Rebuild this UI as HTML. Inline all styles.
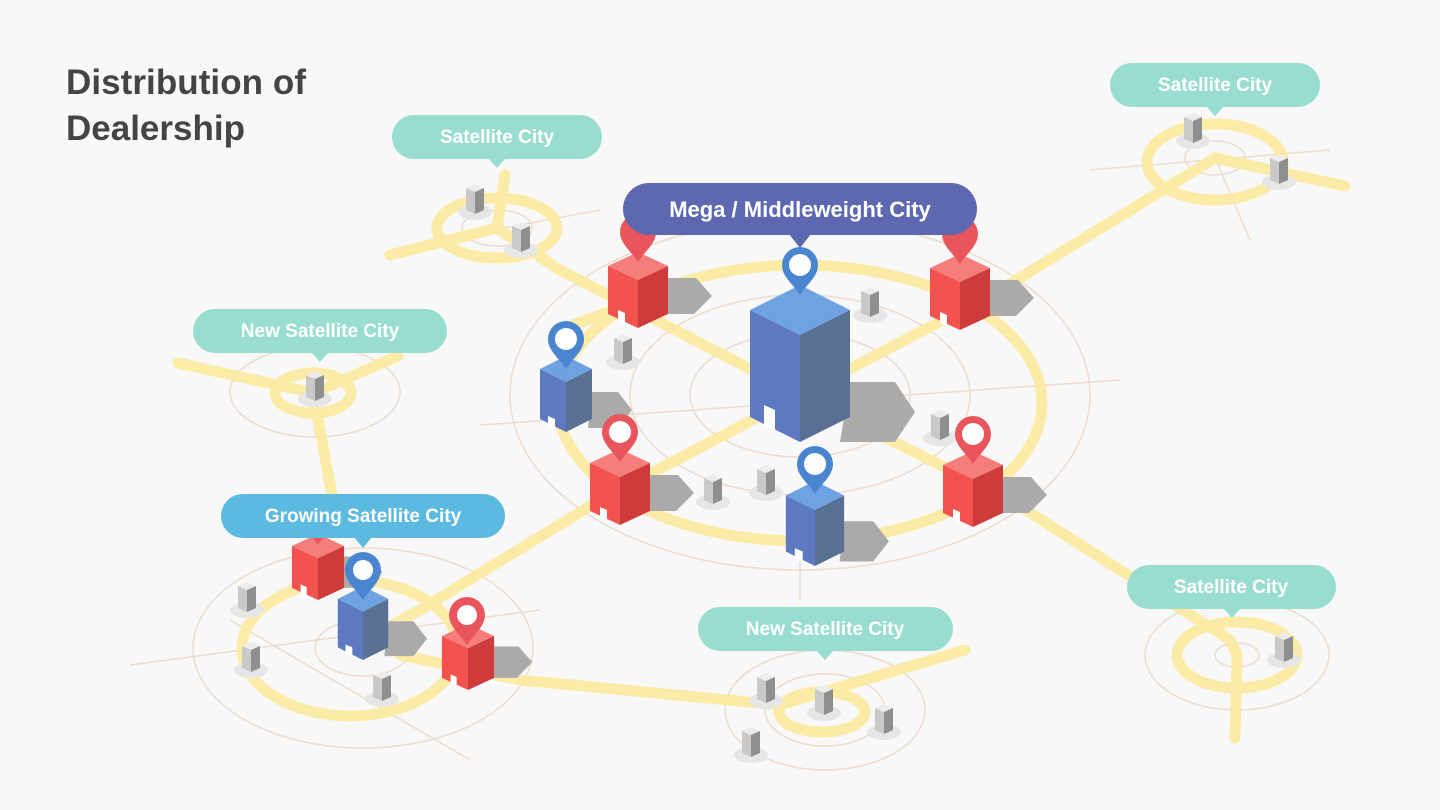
<!DOCTYPE html>
<html><head><meta charset="utf-8"><style>
html,body{margin:0;padding:0;background:#f8f8f8;}
svg{display:block}
text{font-family:"Liberation Sans",sans-serif;}
</style></head><body>
<svg width="1440" height="810" viewBox="0 0 1440 810" xmlns="http://www.w3.org/2000/svg">
<defs>
<g id="rb">
 <polygon points="30,-50 58,-50 74,-32 56,-14 30,-14" fill="#aaaaaa"/>
 <polygon points="0,-76 30,-62 0,-48 -30,-62" fill="#f57d7a"/>
 <polygon points="-30,-62 0,-48 0,0 -30,-14" fill="#f2534f"/>
 <polygon points="30,-62 0,-48 0,0 30,-14" fill="#cd3b3b"/>
 <polygon points="-20,-18 -13,-15 -13,-4 -20,-7" fill="#fff"/>
</g>
<g id="bb">
 <polygon points="26,-40 52,-40 66,-22 52,-4 22,-4" fill="#aaaaaa"/>
 <polygon points="0,-76 26,-63 0,-50 -26,-63" fill="#6fa2e2"/>
 <polygon points="-26,-63 0,-50 0,0 -26,-13" fill="#5d79c2"/>
 <polygon points="26,-63 0,-50 0,0 26,-13" fill="#587093"/>
 <polygon points="-18,-16 -11,-13 -11,-3 -18,-6" fill="#fff"/>
</g>
<g id="sb">
 <ellipse cx="0" cy="0" rx="17" ry="8" fill="#e6e6e6"/>
 <polygon points="-9,-24 0,-28 9,-24 0,-20" fill="#ececec"/>
 <polygon points="-9,-24 0,-20 0,2 -9,-2" fill="#c9c9c9"/>
 <polygon points="9,-24 0,-20 0,2 9,-2" fill="#8f8f8f"/>
</g>
<path id="pr" d="M0,0 C-6,-10 -18,-18 -18,-30 A18,18 0 1 1 18,-30 C18,-18 6,-10 0,0Z" fill="#e9555c"/>
<path id="pb" d="M0,0 C-6,-10 -18,-18 -18,-30 A18,18 0 1 1 18,-30 C18,-18 6,-10 0,0Z" fill="#4a86d0"/>
</defs>

<g fill="none" stroke="#ecdccd" stroke-width="1.5">
 <ellipse cx="800" cy="395" rx="290" ry="175"/>
 <ellipse cx="800" cy="395" rx="170" ry="100"/>
 <ellipse cx="800" cy="395" rx="110" ry="62"/>
 <ellipse cx="497" cy="228" rx="35" ry="18"/>
 <ellipse cx="1215" cy="158" rx="30" ry="17"/>
 <ellipse cx="315" cy="392" rx="85" ry="45"/>
 <ellipse cx="363" cy="648" rx="170" ry="100"/>
 <ellipse cx="363" cy="648" rx="48" ry="28"/>
 <ellipse cx="825" cy="710" rx="100" ry="60"/>
 <ellipse cx="825" cy="710" rx="60" ry="36"/>
 <ellipse cx="1237" cy="655" rx="92" ry="55"/>
 <ellipse cx="1237" cy="655" rx="22" ry="12"/>
 <line x1="480" y1="425" x2="1120" y2="380"/>
 <line x1="800" y1="550" x2="800" y2="600"/>
 <line x1="130" y1="665" x2="540" y2="610"/>
 <line x1="230" y1="620" x2="470" y2="760"/>
 <line x1="1090" y1="170" x2="1330" y2="150"/>
 <line x1="1215" y1="158" x2="1250" y2="240"/>
 <line x1="440" y1="240" x2="600" y2="210"/>
</g>

<g fill="none" stroke="#fcea9f" stroke-width="11" stroke-linecap="round" opacity="0.9">
 <ellipse cx="800" cy="403" rx="242" ry="138"/>
 <ellipse cx="497" cy="228" rx="60" ry="30"/>
 <ellipse cx="1215" cy="162" rx="68" ry="38"/>
 <ellipse cx="313" cy="393" rx="38" ry="20"/>
 <ellipse cx="350" cy="648" rx="108" ry="68"/>
 <ellipse cx="822" cy="712" rx="43" ry="20"/>
 <ellipse cx="1237" cy="655" rx="60" ry="33"/>
 <polyline points="390,255 497,228 560,270 800,395 1010,500 1230,640"/>
 <line x1="505" y1="175" x2="497" y2="228"/>
 <polyline points="1345,186 1215,158 1000,290 800,395 600,500 420,610 350,648"/>
 <line x1="640" y1="300" x2="560" y2="330"/>
 <polyline points="178,363 313,393 398,356"/>
 <line x1="313" y1="393" x2="333" y2="500"/>
 <polyline points="400,655 520,680 780,705 965,650"/>
 <polyline points="1230,640 1237,655 1235,738"/>
</g>

<use href="#sb" x="475" y="212"/><use href="#sb" x="521" y="250"/>
<use href="#sb" x="1193" y="141"/><use href="#sb" x="1279" y="182"/>
<use href="#sb" x="315" y="399"/><use href="#sb" x="623" y="362"/>
<use href="#sb" x="870" y="315"/><use href="#sb" x="940" y="438"/>
<use href="#sb" x="713" y="502"/><use href="#sb" x="766" y="493"/>
<use href="#sb" x="247" y="610"/><use href="#sb" x="251" y="670"/>
<use href="#sb" x="382" y="699"/><use href="#sb" x="766" y="701"/>
<use href="#sb" x="824" y="713"/><use href="#sb" x="884" y="732"/>
<use href="#sb" x="751" y="755"/><use href="#sb" x="1284" y="660"/>

<use href="#rb" x="638" y="328"/>
<use href="#rb" x="960" y="330"/>
<use href="#bb" x="566" y="432"/>
<g>
 <polygon points="850,382 895,382 915,412 895,442 840,442" fill="#aaaaaa"/>
 <polygon points="800,285 850,310 800,335 750,310" fill="#6fa2e2"/>
 <polygon points="750,310 800,335 800,442 750,417" fill="#5d79c2"/>
 <polygon points="850,310 800,335 800,442 850,417" fill="#587093"/>
 <polygon points="764,405 775,410 775,430 764,425" fill="#fff"/>
</g>
<use href="#rb" x="620" y="525"/>
<use href="#rb" x="973" y="527"/>
<use href="#bb" x="815" y="566" transform="translate(815,566) scale(1.12) translate(-815,-566)"/>
<use href="#rb" x="318" y="600" transform="translate(318,600) scale(0.87) translate(-318,-600)"/>
<use href="#bb" x="363" y="660" transform="translate(363,660) scale(0.97) translate(-363,-660)"/>
<use href="#rb" x="468" y="690" transform="translate(468,690) scale(0.87) translate(-468,-690)"/>

<use href="#pr" x="638" y="262"/>
<use href="#pr" x="960" y="264"/>
<use href="#pb" x="566" y="369"/><circle cx="566" cy="339" r="11" fill="#fff"/>
<use href="#pb" x="800" y="295"/><circle cx="800" cy="265" r="11" fill="#fff"/>
<use href="#pr" x="620" y="462"/><circle cx="620" cy="432" r="11" fill="#fff"/>
<use href="#pr" x="973" y="464"/><circle cx="973" cy="434" r="11" fill="#fff"/>
<use href="#pb" x="815" y="494"/><circle cx="815" cy="464" r="11" fill="#fff"/>
<use href="#pr" x="318" y="545"/>
<use href="#pb" x="363" y="600"/><circle cx="363" cy="570" r="10" fill="#fff"/>
<use href="#pr" x="467" y="645"/><circle cx="467" cy="615" r="10" fill="#fff"/>

<g font-weight="bold" fill="#fff" text-anchor="middle">
 <rect x="392" y="115" width="210" height="44" rx="22" fill="#98ddd0"/><polygon points="488,158 506,158 497,168" fill="#98ddd0"/>
 <text x="497" y="143" font-size="19" fill="#fff">Satellite City</text>
 <rect x="1110" y="63" width="210" height="44" rx="22" fill="#98ddd0"/><polygon points="1206,106 1224,106 1215,116" fill="#98ddd0"/>
 <text x="1215" y="91" font-size="19" fill="#fff">Satellite City</text>
 <rect x="623" y="183" width="354" height="52" rx="26" fill="#5d68b0"/><polygon points="789,234 811,234 800,248" fill="#5d68b0"/>
 <text x="800" y="217" font-size="22" fill="#fff">Mega / Middleweight City</text>
 <rect x="193" y="309" width="254" height="44" rx="22" fill="#98ddd0"/><polygon points="311,352 329,352 320,362" fill="#98ddd0"/>
 <text x="320" y="337" font-size="19" fill="#fff">New Satellite City</text>
 <rect x="221" y="494" width="284" height="44" rx="22" fill="#5cb9df"/><polygon points="354,537 372,537 363,548" fill="#5cb9df"/>
 <text x="363" y="522" font-size="19" fill="#fff">Growing Satellite City</text>
 <rect x="698" y="607" width="255" height="44" rx="22" fill="#98ddd0"/><polygon points="816,650 834,650 825,660" fill="#98ddd0"/>
 <text x="825" y="635" font-size="19" fill="#fff">New Satellite City</text>
 <rect x="1127" y="565" width="209" height="44" rx="22" fill="#98ddd0"/><polygon points="1223,608 1241,608 1232,618" fill="#98ddd0"/>
 <text x="1231" y="593" font-size="19" fill="#fff">Satellite City</text>
</g>

<text x="66" y="94" font-size="35" font-weight="bold" fill="#444" textLength="240">Distribution of</text>
<text x="66" y="140" font-size="35" font-weight="bold" fill="#444">Dealership</text>
</svg>
</body></html>
